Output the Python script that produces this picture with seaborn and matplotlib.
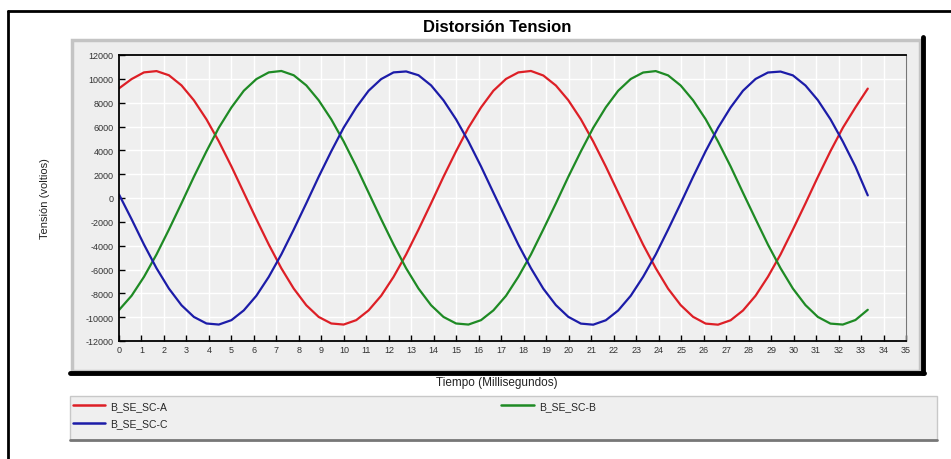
import numpy as np
import pandas as pd
import matplotlib
matplotlib.use("Agg")
import matplotlib.pyplot as plt
from matplotlib.patches import Rectangle
from matplotlib.lines import Line2D
import seaborn as sns

# valores (ms, voltios)
tiempo_ms = [0, 0.56, 1.11, 1.67, 2.22, 2.78, 3.33, 3.89, 4.44, 5.0,
             5.55, 6.11, 6.66, 7.22, 7.77, 8.33, 8.88, 9.44, 9.99, 10.55,
             11.1, 11.66, 12.21, 12.77, 13.32, 13.88, 14.43, 14.99, 15.54, 16.1,
             16.65, 17.21, 17.76, 18.32, 18.87, 19.43, 19.98, 20.54, 21.09, 21.65,
             22.2, 22.76, 23.31, 23.87, 24.42, 24.98, 25.53, 26.09, 26.64, 27.2,
             27.75, 28.31, 28.86, 29.42, 29.97, 30.53, 31.08, 31.64, 32.19, 32.75,
             33.3]

fase_a = [9200, 9980, 10540, 10650, 10300, 9450, 8200, 6600, 4750, 2650,
          450, -1780, -3900, -5900, -7600, -9000, -9980, -10530, -10620, -10250,
          -9430, -8200, -6620, -4730, -2650, -440, 1780, 3920, 5900, 7600,
          9000, 9990, 10540, 10660, 10280, 9440, 8210, 6610, 4740, 2640,
          450, -1770, -3920, -5890, -7610, -8990, -9970, -10540, -10630, -10260,
          -9440, -8200, -6610, -4740, -2650, -450, 1770, 3930, 5890, 7600,
          9180]

fase_b = [-9400, -8200, -6620, -4730, -2650, -440, 1780, 3920, 5900, 7600,
          9000, 9980, 10540, 10660, 10300, 9450, 8200, 6600, 4750, 2650,
          450, -1780, -3900, -5900, -7600, -9000, -9980, -10530, -10620, -10250,
          -9430, -8210, -6610, -4740, -2640, -450, 1770, 3910, 5890, 7610,
          9000, 9990, 10530, 10650, 10290, 9440, 8200, 6610, 4740, 2650,
          440, -1770, -3910, -5890, -7600, -8990, -9980, -10540, -10620, -10240,
          -9380]

fase_c = [300, -1780, -3900, -5900, -7600, -9000, -9980, -10530, -10620, -10250,
          -9430, -8200, -6620, -4730, -2650, -440, 1780, 3920, 5900, 7600,
          9000, 9980, 10540, 10620, 10300, 9450, 8200, 6600, 4750, 2650,
          450, -1770, -3910, -5890, -7610, -8990, -9970, -10540, -10630, -10260,
          -9440, -8200, -6610, -4740, -2650, -450, 1770, 3930, 5890, 7600,
          9000, 9990, 10530, 10610, 10290, 9440, 8210, 6610, 4740, 2640,
          220]

series = ["B_SE_SC-A", "B_SE_SC-B", "B_SE_SC-C"]
colores = {"B_SE_SC-A": "#dd1f26", "B_SE_SC-B": "#1e8a24", "B_SE_SC-C": "#1c1ca8"}

W, H = 951, 460


def fx(x):
    return x / W


def fy(y):
    return 1 - y / H


sns.set_theme(style="darkgrid",
              rc={"axes.facecolor": "#efefef", "grid.color": "white",
                  "grid.linewidth": 1.0})
plt.rcParams["font.family"] = ["Liberation Sans", "DejaVu Sans"]
plt.rcParams["axes.unicode_minus"] = False

df = pd.DataFrame({
    "t": tiempo_ms * 3,
    "v": fase_a + fase_b + fase_c,
    "fase": np.repeat(series, len(tiempo_ms)),
})

fig = plt.figure(figsize=(W / 100, H / 100), dpi=100)
fig.patch.set_facecolor("white")

# marco exterior
fig.add_artist(Line2D([fx(8), fx(951)], [fy(12), fy(12)], color="black", lw=2,
                      transform=fig.transFigure, zorder=-20))
fig.add_artist(Line2D([fx(8), fx(8)], [fy(12), fy(460)], color="black", lw=2,
                      transform=fig.transFigure, zorder=-20))

# panel gris del grafico
fig.add_artist(Rectangle((fx(72), fy(372)), fx(920) - fx(72), fy(41) - fy(372),
                         facecolor="#eeeeee", edgecolor="#c4c4c4", lw=2.5,
                         transform=fig.transFigure, zorder=-10))
fig.add_artist(Line2D([fx(923), fx(923)], [fy(38), fy(374)], color="black", lw=3.5,
                      transform=fig.transFigure, zorder=-9))
fig.add_artist(Line2D([fx(70), fx(924)], [fy(373.5), fy(373.5)], color="black", lw=3.5,
                      transform=fig.transFigure, zorder=-9))

ax = fig.add_axes([fx(119), fy(342), fx(906) - fx(119), fy(56) - fy(342)])
sns.lineplot(data=df, x="t", y="v", hue="fase", palette=colores, linewidth=1.6,
             estimator=None, sort=False, legend=False, ax=ax)

ax.set_xlim(0, 35)
ax.set_ylim(-12000, 12000)
ax.set_xticks(range(0, 36))
ax.set_yticks(range(-12000, 12001, 2000))
ax.set_xlabel("")
ax.set_ylabel("")
ax.tick_params(axis="both", direction="in", length=4, width=1, color="black",
               labelsize=6.5, labelcolor="#333333", bottom=True, left=True)
ax.tick_params(axis="y", pad=4)
ax.tick_params(axis="x", pad=3)
for s in ["left", "bottom", "top"]:
    ax.spines[s].set_visible(True)
    ax.spines[s].set_color("black")
    ax.spines[s].set_linewidth(1.3)
ax.spines["right"].set_visible(True)
ax.spines["right"].set_color("#777777")
ax.spines["right"].set_linewidth(0.8)

fig.text(fx(497), fy(28), "Distorsión Tension", ha="center", va="center",
         fontsize=12, fontweight="bold", color="black")
fig.text(fx(45), fy(199), "Tensión (voltios)", ha="center", va="center",
         rotation=90, fontsize=8, color="#222222")
fig.text(fx(497), fy(383), "Tiempo (Millisegundos)", ha="center", va="center",
         fontsize=8.5, color="#222222")

# caja de la leyenda
fig.add_artist(Rectangle((fx(70), fy(441)), fx(937) - fx(70), fy(397) - fy(441),
                         facecolor="#efefef", edgecolor="#c8c8c8", lw=1,
                         transform=fig.transFigure, zorder=-10))
fig.add_artist(Line2D([fx(70), fx(937)], [fy(441), fy(441)], color="#777777", lw=2,
                      transform=fig.transFigure, zorder=-9))

handles = {s: Line2D([], [], color=colores[s], lw=1.8, label=s) for s in series}
fig.legend(handles=[handles["B_SE_SC-A"], handles["B_SE_SC-C"], handles["B_SE_SC-B"]],
           ncol=2, loc="upper left", bbox_to_anchor=(fx(71), fy(400)),
           frameon=False, fontsize=7.5, handlelength=3.1, handletextpad=0.5,
           columnspacing=32, labelspacing=0.7, borderaxespad=0, borderpad=0.2)

fig.savefig("out.png", dpi=100)
